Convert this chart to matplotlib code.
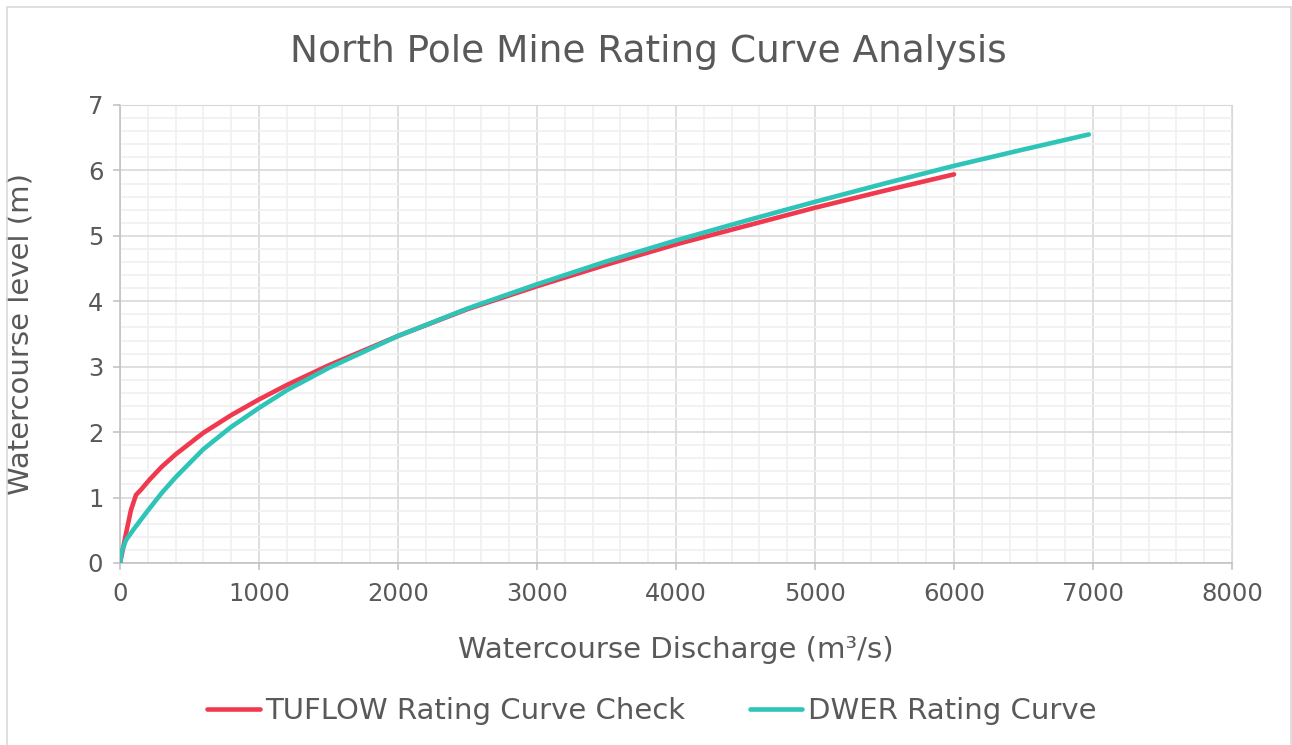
import matplotlib
matplotlib.use("Agg")
import matplotlib.pyplot as plt
from matplotlib.patches import Rectangle
from matplotlib.ticker import MultipleLocator

# TUFLOW model check (discharge m3/s, level m)
tuflow_q = [0, 14, 43, 79, 115, 151, 211, 300, 400, 600, 800, 1000, 1200, 1500,
            2000, 2500, 3000, 3500, 4000, 4500, 5000, 5500, 6000]
tuflow_h = [0, 0.14, 0.45, 0.81, 1.04, 1.12, 1.27, 1.47, 1.66, 1.99, 2.26, 2.50, 2.72, 3.02,
            3.47, 3.88, 4.23, 4.56, 4.87, 5.15, 5.43, 5.69, 5.94]

# DWER published rating curve
dwer_q = [0, 12, 43, 100, 200, 300, 400, 600, 800, 1000, 1200, 1500, 2000,
          2500, 3000, 3500, 4000, 4500, 5000, 5500, 6000, 6500, 6970]
dwer_h = [0, 0.17, 0.35, 0.52, 0.80, 1.07, 1.31, 1.74, 2.08, 2.37, 2.64, 2.98, 3.47,
          3.89, 4.26, 4.61, 4.93, 5.23, 5.52, 5.80, 6.07, 6.32, 6.55]

GREY_TXT = "#595959"
RED = "#F0384F"
TEAL = "#2EC4B8"

plt.rcParams['font.family'] = ['DejaVu Sans']

fig = plt.figure(figsize=(12.92, 7.45), dpi=100)
W, H = 1292, 745
ax = fig.add_axes([120 / W, 1 - 563 / H, (1232 - 120) / W, (563 - 105) / H])

# outer chart border
fig.patches.append(Rectangle((7 / W, -0.05), (1291 - 7) / W, 1.05 - 7 / H,
                             transform=fig.transFigure, fill=False,
                             edgecolor="#D9D9D9", linewidth=1.2))

ax.plot(tuflow_q, tuflow_h, color=RED, lw=3.3, solid_capstyle="round",
        solid_joinstyle="round", label="TUFLOW Rating Curve Check", zorder=3)
ax.plot(dwer_q, dwer_h, color=TEAL, lw=3.3, solid_capstyle="round",
        solid_joinstyle="round", label="DWER Rating Curve", zorder=4)

ax.set_xlim(0, 8000)
ax.set_ylim(0, 7)
ax.xaxis.set_major_locator(MultipleLocator(1000))
ax.xaxis.set_minor_locator(MultipleLocator(200))
ax.yaxis.set_major_locator(MultipleLocator(1))
ax.yaxis.set_minor_locator(MultipleLocator(0.2))
ax.grid(which="major", color="#D9D9D9", lw=1.2)
ax.grid(which="minor", color="#F0F0F0", lw=1.2)
ax.set_axisbelow(True)

for side in ["top", "right"]:
    ax.spines[side].set_color("#D9D9D9")
for side in ["left", "bottom"]:
    ax.spines[side].set_color("#BFBFBF")
    ax.spines[side].set_linewidth(1.1)

ax.tick_params(which="major", length=5, width=1.1, color="#BFBFBF",
               labelsize=17.5, labelcolor=GREY_TXT)
ax.tick_params(axis="y", which="major", pad=7)
ax.tick_params(axis="x", which="major", pad=9)
ax.tick_params(which="minor", length=0)

ax.set_xlabel("Watercourse Discharge (m³/s)", fontsize=21, color=GREY_TXT)
ax.xaxis.set_label_coords((676 - 120) / (1232 - 120), (563 - 636) / (563 - 105))
ax.set_ylabel("Watercourse level (m)", fontsize=21, color=GREY_TXT)
ax.yaxis.set_label_coords((35 - 120) / (1232 - 120), 0.5)

fig.text(648 / W, 1 - 52 / H, "North Pole Mine Rating Curve Analysis",
         ha="center", va="center", fontsize=27, color=GREY_TXT)

fig.legend(loc="center", bbox_to_anchor=(652 / W, 1 - 711 / H), ncol=2,
           frameon=False, fontsize=21, handlelength=1.8, handletextpad=0.2,
           columnspacing=2.2, labelcolor=GREY_TXT)

fig.savefig("out.png", dpi=100, facecolor="white")
